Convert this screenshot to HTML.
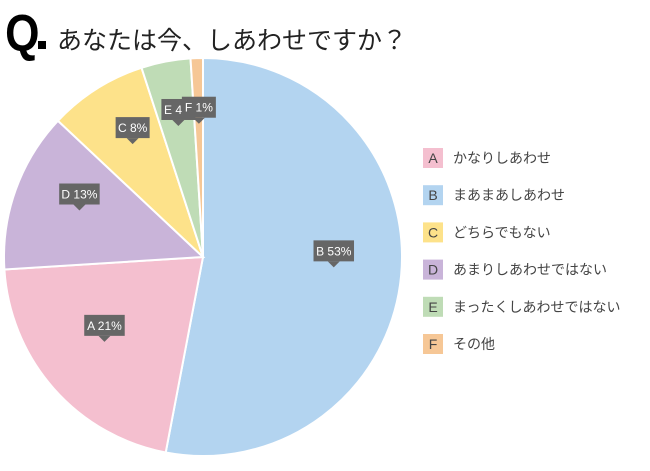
<!DOCTYPE html>
<html><head><meta charset="utf-8"><style>
body{margin:0;background:#fff;width:650px;height:466px;overflow:hidden;font-family:"Liberation Sans","Noto Sans CJK JP",sans-serif}
</style></head><body>
<svg width="650" height="466" id="svg">
<text x="6" y="51" font-family="Liberation Sans Narrow, Liberation Sans, sans-serif" font-weight="bold" font-size="52" transform="scale(0.85,1)">Q</text>
<rect x="38" y="41" width="8" height="8" fill="#000"/>
<text x="57" y="49" font-size="25" fill="#222" font-family="Noto Sans CJK JP, sans-serif">あなたは今、しあわせですか？</text>
<g id="slices"></g><g id="labels"></g><g id="legend"></g>
</svg>
<script>
const keys=["B","A","D","C","E","F"];
const values=[53,21,13,8,4,1];
const colors=["#b3d4f0","#f4bfcf","#c9b4d9","#fde28a","#bfdcb6","#f6c796"];
const legendKeys=["A","B","C","D","E","F"];
const legendLabels=["かなりしあわせ","まあまあしあわせ","どちらでもない","あまりしあわせではない","まったくしあわせではない","その他"];
const legendColors=["#f4bfcf","#b3d4f0","#fde28a","#c9b4d9","#bfdcb6","#f6c796"];
const NS="http://www.w3.org/2000/svg";
const cx=203,cy=257,r=199;
const total=values.reduce((a,b)=>a+b,0);
function pt(a,rr){return [cx+rr*Math.sin(a),cy-rr*Math.cos(a)];}
const gs=document.getElementById('slices'),gl=document.getElementById('labels'),gg=document.getElementById('legend');
let acc=0;
values.forEach((v,i)=>{
 const a0=acc/total*2*Math.PI;acc+=v;const a1=acc/total*2*Math.PI;
 const p0=pt(a0,r),p1=pt(a1,r);
 const p=document.createElementNS(NS,'path');
 p.setAttribute('d',`M${cx},${cy}L${p0[0]},${p0[1]}A${r},${r} 0 ${a1-a0>Math.PI?1:0} 1 ${p1[0]},${p1[1]}Z`);
 p.setAttribute('fill',colors[i]);p.setAttribute('stroke','#fff');p.setAttribute('stroke-width','2');
 
 
 gs.appendChild(p);
 const m=(a0+a1)/2;const t=pt(m,r*0.66);
 const txt=keys[i]+' '+v+'%';const w=txt.length*6.5+8;
 const g=document.createElementNS(NS,'g');
 
 
 g.innerHTML=`<rect x="${t[0]-w/2}" y="${t[1]-29}" width="${w}" height="21" fill="#666"/><path d="M${t[0]-6},${t[1]-8}L${t[0]},${t[1]-2}L${t[0]+6},${t[1]-8}Z" fill="#666"/><text x="${t[0]}" y="${t[1]-14}" text-anchor="middle" font-size="12" fill="#fff">${txt}</text>`;
 gl.appendChild(g);
});
legendKeys.forEach((k,i)=>{
 const y=158+i*37.2;
 const g=document.createElementNS(NS,'g');
 
 
 g.innerHTML=`<rect x="423" y="${y-10}" width="20" height="20" fill="${legendColors[i]}"/><text x="433" y="${y+5}" text-anchor="middle" font-size="14" fill="#444">${k}</text><text x="453" y="${y+5}" font-size="14" fill="#444">${legendLabels[i]}</text>`;
 gg.appendChild(g);
});
</script>
</body></html>
